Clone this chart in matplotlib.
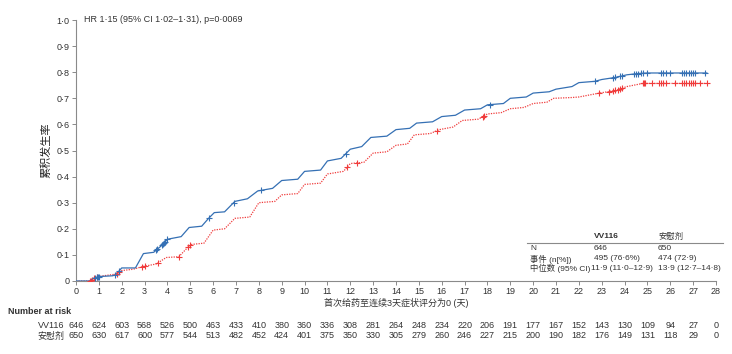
import matplotlib
matplotlib.use('Agg')
import matplotlib.pyplot as plt
import numpy as np

plt.rcParams['font.family'] = ['Liberation Sans', 'Noto Sans CJK SC']

BLUE = '#3570b4'
RED = '#f03c3c'
GREY = '#8a8a8a'
TXT = '#333333'

# cumulative incidence curves (day, value)
vv_days = [0, 0.6, 0.75, 1.0, 1.6, 1.75, 2.0, 2.6, 2.95, 3.4, 3.6, 3.8, 4.0, 4.6, 4.95,
           5.5, 5.8, 6.05, 6.5, 6.95, 7.5, 7.95, 8.6, 9.0, 9.7, 10.0, 10.7, 11.0, 11.6,
           12.0, 12.5, 12.9, 13.6, 14.0, 14.6, 14.9, 15.6, 16.0, 16.6, 17.0, 17.7, 18.0,
           18.7, 19.0, 19.7, 20.0, 20.7, 21.0, 21.7, 22.0, 22.7, 23.0, 23.6, 24.1, 24.6,
           25.0, 27.6]
vv_vals = [0, 0, 0.01, 0.017, 0.02, 0.025, 0.05, 0.05, 0.105, 0.11, 0.125, 0.14, 0.16,
           0.17, 0.205, 0.21, 0.24, 0.262, 0.265, 0.305, 0.315, 0.345, 0.355, 0.385, 0.39,
           0.42, 0.425, 0.46, 0.47, 0.505, 0.515, 0.55, 0.555, 0.58, 0.585, 0.605, 0.61,
           0.63, 0.635, 0.655, 0.66, 0.675, 0.68, 0.70, 0.705, 0.72, 0.725, 0.735, 0.745,
           0.76, 0.765, 0.772, 0.78, 0.79, 0.795, 0.797, 0.797]

pb_days = [0, 0.55, 0.7, 0.9, 1.2, 1.8, 2.0, 2.5, 2.9, 3.5, 3.95, 4.5, 4.9, 5.05, 5.6,
           6.0, 6.5, 6.95, 7.6, 8.0, 8.7, 9.0, 9.7, 10.0, 10.7, 11.0, 11.7, 12.0, 12.6,
           13.0, 13.6, 14.0, 14.5, 14.8, 15.5, 15.9, 16.5, 16.9, 17.6, 18.0, 18.6, 19.0,
           19.6, 20.0, 20.6, 20.9, 21.7, 22.0, 22.6, 22.9, 23.6, 24.1, 24.8, 27.7]
pb_vals = [0, 0, 0.005, 0.015, 0.02, 0.027, 0.04, 0.045, 0.055, 0.065, 0.09, 0.093, 0.13,
           0.14, 0.145, 0.195, 0.2, 0.24, 0.245, 0.30, 0.305, 0.33, 0.335, 0.37, 0.375,
           0.41, 0.42, 0.45, 0.455, 0.49, 0.495, 0.52, 0.525, 0.56, 0.565, 0.58, 0.59,
           0.615, 0.62, 0.64, 0.645, 0.66, 0.665, 0.68, 0.685, 0.70, 0.703, 0.705, 0.715,
           0.72, 0.73, 0.745, 0.757, 0.757]

# censoring times
vv_cens = [0.85, 0.9, 0.95, 1.0, 1.7, 1.9, 3.5, 3.55, 3.75, 3.8, 3.85, 3.9, 4.0, 5.8, 6.9,
           8.1, 11.8, 18.1, 22.7, 23.5, 23.6, 23.8, 23.9, 24.4, 24.5, 24.6, 24.7, 24.8, 25.0,
           25.6, 25.7, 25.8, 26.0, 26.5, 26.6, 26.7, 26.8, 26.9, 27.0, 27.1, 27.5]
pb_cens = [0.6, 0.7, 0.8, 0.9, 1.8, 1.9, 2.9, 3.0, 3.6, 4.5, 4.9, 5.0, 11.85, 12.3, 15.8,
           17.8, 17.85, 22.9, 23.3, 23.5, 23.6, 23.7, 23.8, 23.9, 24.8, 24.85, 24.9, 25.2,
           25.5, 25.6, 25.7, 25.8, 26.2, 26.5, 26.6, 26.7, 26.8, 26.9, 27.0, 27.1, 27.3, 27.6]

risk_days = list(range(0, 29))
risk_vv = [646, 624, 603, 568, 526, 500, 463, 433, 410, 380, 360, 336, 308, 281, 264, 248,
           234, 220, 206, 191, 177, 167, 152, 143, 130, 109, 94, 27, 0]
risk_pb = [650, 630, 617, 600, 577, 544, 513, 482, 452, 424, 401, 375, 350, 330, 305, 279,
           260, 246, 227, 215, 200, 190, 182, 176, 149, 131, 118, 29, 0]

groups = ['VV116', '安慰剂']
summary_rows = ['N', '事件 (n[%])', '中位数 (95% CI)']
summary_vv = ['646', '495 (76·6%)', '11·9 (11·0–12·9)']
summary_pb = ['650', '474 (72·9)', '13·9 (12·7–14·8)']


def fmt(v):
    if v == 0:
        return '0'
    return f'{v:.1f}'.replace('.', '·')


fig = plt.figure(figsize=(7.32, 3.54), dpi=100)
ax = fig.add_axes([76 / 732, 1 - 281 / 354, 640 / 732, 261 / 354])

ax.plot(vv_days, vv_vals, color=BLUE, lw=0.9, zorder=3)
ax.plot(pb_days, pb_vals, color=RED, lw=0.9, ls=(0, (1, 1)), zorder=2)
ax.plot(vv_cens, np.interp(vv_cens, vv_days, vv_vals), ls='none', marker='+',
        ms=5, mew=0.8, color=BLUE, zorder=4)
ax.plot(pb_cens, np.interp(pb_cens, pb_days, pb_vals), ls='none', marker='+',
        ms=5, mew=0.8, color=RED, zorder=3)

ax.set_xlim(0, 28)
ax.set_ylim(0, 1.0)
ax.set_xticks(range(0, 29))
ax.set_yticks(np.arange(0, 1.01, 0.1))
ax.set_yticklabels([fmt(v) for v in np.arange(0, 1.01, 0.1)])
for s in ['top', 'right']:
    ax.spines[s].set_visible(False)
for s in ['left', 'bottom']:
    ax.spines[s].set_color(GREY)
    ax.spines[s].set_linewidth(0.8)
ax.tick_params(colors=GREY, labelcolor=TXT, labelsize=6.5, length=3, width=0.7, pad=1.5)
ax.set_xlabel('首次给药至连续3天症状评分为0 (天)', fontsize=6.5, color=TXT, labelpad=1)
ax.set_ylabel('累积发生率', fontsize=8, color='#222222', labelpad=4)

ax.text(0.35, 1.0, 'HR 1·15 (95% CI 1·02–1·31), p=0·0069', fontsize=6.5, color=TXT,
        va='center', ha='left')

# summary table inside the axes
tr = fig.transFigure
fs = 6.0
fig.text(594 / 732, 1 - 237 / 354, groups[0], fontsize=fs, fontweight='bold',
         color=TXT, va='center')
fig.text(658 / 732, 1 - 237 / 354, groups[1], fontsize=fs, color=TXT, va='center')
fig.add_artist(plt.Line2D([527 / 732, 723 / 732], [1 - 243 / 354] * 2, color=GREY,
                          lw=0.8, transform=tr))
row_y = [249, 259, 268]
for i, (lab, a, b) in enumerate(zip(summary_rows, summary_vv, summary_pb)):
    y = 1 - row_y[i] / 354
    fig.text(530 / 732, y, lab, fontsize=fs, color=TXT, va='center')
    if i < 2:
        fig.text(594 / 732, y, a, fontsize=fs, color=TXT, va='center')
    else:
        fig.text(653 / 732, y, a, fontsize=fs, color=TXT, va='center', ha='right')
    fig.text(658 / 732, y, b, fontsize=fs, color=TXT, va='center')

# number at risk
fig.text(8 / 732, 1 - 311 / 354, 'Number at risk', fontsize=6.5, fontweight='bold',
         color=TXT, va='center')
fig.text(64 / 732, 1 - 325 / 354, groups[0], fontsize=6.5, color=TXT, va='center', ha='right')
fig.text(64 / 732, 1 - 336 / 354, groups[1], fontsize=6.5, color=TXT, va='center', ha='right')
blend = matplotlib.transforms.blended_transform_factory(ax.transData, tr)
for d, a, b in zip(risk_days, risk_vv, risk_pb):
    fig.text(d, 1 - 325 / 354, str(a), fontsize=6.5, color=TXT, va='center', ha='center',
             transform=blend)
    fig.text(d, 1 - 336 / 354, str(b), fontsize=6.5, color=TXT, va='center', ha='center',
             transform=blend)

fig.savefig('out.png', dpi=100)
